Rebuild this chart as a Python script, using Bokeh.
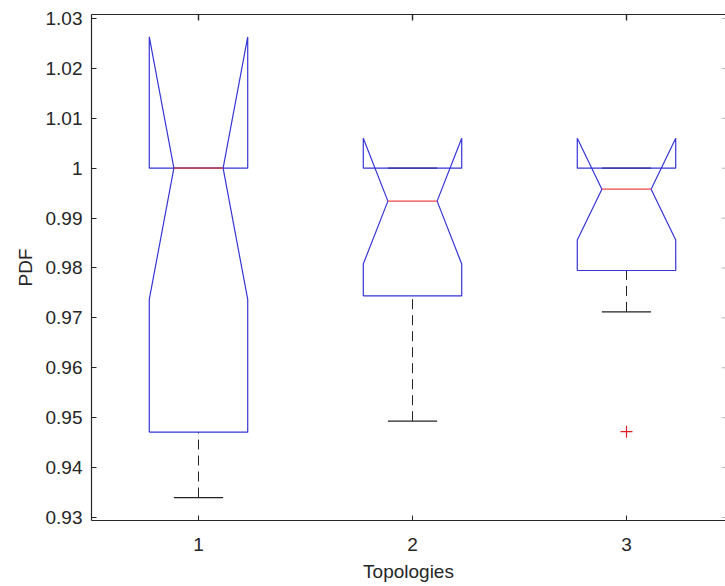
from bokeh.plotting import figure
from bokeh.models import (Range1d, FixedTicker, LinearAxis)
from bokeh.embed import file_html
from bokeh.resources import INLINE

# ---- data ----
topologies = [1, 2, 3]
q1 = [0.9471, 0.9744, 0.9795]
q3 = [1.0000, 1.0000, 1.0000]
medians = [1.0000, 0.9934, 0.9958]
notch_lo = [0.9737, 0.9808, 0.9856]
notch_hi = [1.0263, 1.0060, 1.0060]
whisker_lo = [0.9340, 0.9493, 0.9712]
whisker_hi = [1.0000, 1.0000, 1.0000]
outlier_x = [3]
outlier_y = [0.9472]

y_ticks = [0.93, 0.94, 0.95, 0.96, 0.97, 0.98, 0.99, 1.0, 1.01, 1.02, 1.03]
y_tick_labels = ["0.93", "0.94", "0.95", "0.96", "0.97", "0.98", "0.99", "1", "1.01", "1.02", "1.03"]
x_tick_labels = ["1", "2", "3"]

BOX_W = 0.46
FONT = "Liberation Sans"
TXT = "#262626"
X0, X1 = 0.5, 3.4626
Y0, Y1 = 0.9294, 1.0308

p = figure(width=725, height=586, output_backend="svg", toolbar_location=None,
           x_range=Range1d(X0, X1), y_range=Range1d(Y0, Y1),
           min_border_left=91, min_border_right=0, min_border_top=14, min_border_bottom=66)
p.background_fill_color = "white"
p.border_fill_color = "white"
p.outline_line_color = None
p.grid.visible = False

# whiskers (dashed) and caps
xs_w, ys_w, xs_c, ys_c = [], [], [], []
for x, lo, hi, a, b in zip(topologies, whisker_lo, whisker_hi, q1, q3):
    xs_w.append([x, x]); ys_w.append([lo, a])
    xs_w.append([x, x]); ys_w.append([b, hi])
    xs_c.append([x - BOX_W / 4, x + BOX_W / 4]); ys_c.append([lo, lo])
    xs_c.append([x - BOX_W / 4, x + BOX_W / 4]); ys_c.append([hi, hi])
p.multi_line(xs=xs_w, ys=ys_w, line_color="#222222", line_width=1, line_dash="10 6")
p.multi_line(xs=xs_c, ys=ys_c, line_color="#222222", line_width=1.2)

# notched boxes
bx, by = [], []
for x, a, b, m, nl, nh in zip(topologies, q1, q3, medians, notch_lo, notch_hi):
    h, q = BOX_W / 2, BOX_W / 4
    bx.append([x - h, x - h, x - q, x - h, x - h, x + h, x + h, x + q, x + h, x + h, x - h])
    by.append([a, nl, m, nh, b, b, nh, m, nl, a, a])
p.multi_line(xs=bx, ys=by, line_color="#3535d8", line_width=1.2)

# medians
mx = [[x - BOX_W / 4, x + BOX_W / 4] for x in topologies]
my = [[m, m] for m in medians]
p.multi_line(xs=mx, ys=my, line_color="#f04848", line_width=1.3)

# outliers
p.scatter(outlier_x, outlier_y, marker="cross", size=12, line_color="#e02020", line_width=1.2)

# inward tick marks on the top and right edges of the box
p.ray(x=topologies, y=[Y1] * len(topologies), length=6, length_units="screen",
      angle=-1.5708, line_color=TXT, line_width=1.4)
p.ray(x=[X1] * len(y_ticks), y=y_ticks, length=4, length_units="screen",
      angle=3.14159, line_color="#bbbbbb", line_width=1)

# axes
xa = p.xaxis[0]
xa.ticker = FixedTicker(ticks=topologies)
xa.major_label_overrides = {t: s for t, s in zip(topologies, x_tick_labels)}
ya = p.yaxis[0]
ya.ticker = FixedTicker(ticks=y_ticks)
ya.major_label_overrides = {t: s for t, s in zip(y_ticks, y_tick_labels)}
for ax in (xa, ya):
    ax.axis_line_color = TXT
    ax.axis_line_width = 1.2
    ax.major_tick_line_color = TXT
    ax.major_tick_in = 5
    ax.major_tick_out = 0
    ax.minor_tick_line_color = None
    ax.major_label_text_font = FONT
    ax.major_label_text_font_size = "19px"
    ax.major_label_text_color = TXT
    ax.axis_label_text_font = FONT
    ax.axis_label_text_font_size = "19px"
    ax.axis_label_text_font_style = "normal"
    ax.axis_label_text_color = TXT
xa.axis_label = "Topologies"
ya.axis_label = "PDF"
xa.major_label_standoff = 17
ya.major_label_standoff = 9
xa.axis_label_standoff = 7
ya.axis_label_standoff = 7

top = LinearAxis(ticker=FixedTicker(ticks=[]), axis_line_color=TXT, axis_line_width=1.2,
                 major_tick_line_color=None, minor_tick_line_color=None)
p.add_layout(top, "above")

open("out.html", "w").write(file_html(p, INLINE))
